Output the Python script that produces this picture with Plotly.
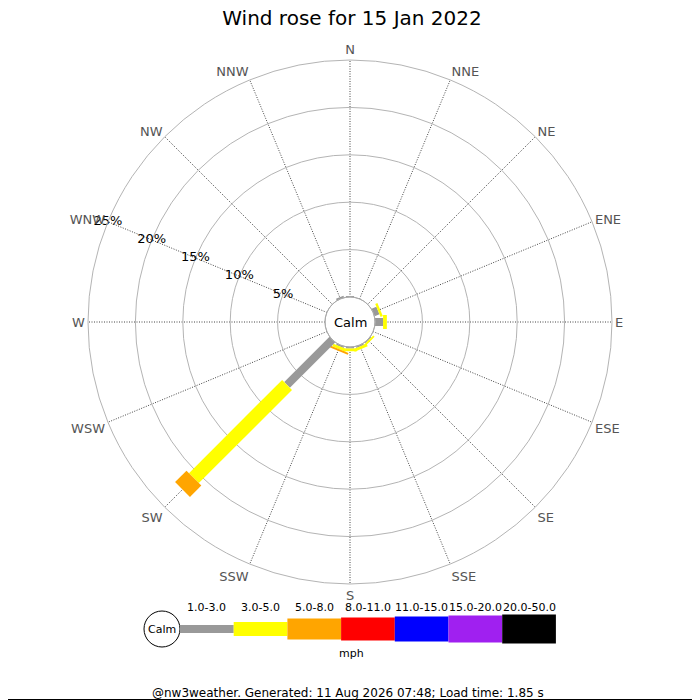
import plotly.graph_objects as go

# ---------------- data ----------------
directions = ["N", "NNE", "NE", "ENE", "E", "ESE", "SE", "SSE",
              "S", "SSW", "SW", "WSW", "W", "WNW", "NW", "NNW"]
band_labels = ["1.0-3.0", "3.0-5.0", "5.0-8.0", "8.0-11.0",
               "11.0-15.0", "15.0-20.0", "20.0-50.0"]
# percentage of time per direction, for each speed band (mph)
band_1_3 = [0.1, 0, 0, 0.55, 0.85, 0, 0.1, 0.15, 0.15, 0.15, 6.75, 0, 0, 0, 0, 0.2]
band_3_5 = [0, 0, 0, 0.25, 0.4, 0, 0.2, 0.3, 0.3, 0.3, 13.9, 0, 0, 0, 0, 0]
band_5_8 = [0, 0, 0, 0, 0, 0, 0, 0, 0, 0.2, 1.7, 0, 0, 0, 0, 0]
band_8_11 = [0] * 16
band_11_15 = [0] * 16
band_15_20 = [0] * 16
band_20_50 = [0] * 16
radial_ticks = [5, 10, 15, 20, 25]
radial_tick_labels = ["5%", "10%", "15%", "20%", "25%"]

# ---------------- style ----------------
bands = [band_1_3, band_3_5, band_5_8, band_8_11, band_11_15, band_15_20, band_20_50]
band_colors = ["#999999", "#ffff00", "#ffa500", "#ff0000", "#0000ff", "#a020f0", "#000000"]
band_widths = [8, 14, 21, 23, 25, 27, 29]
FONT = "DejaVu Sans"
W = H = 700
OFF = 8  # page body margin
cx, cy, R = 350, 322, 262
hole_px = 25

def px(x):
    return (x - OFF) / W

def py(y):
    return 1 - (y - OFF) / H

fig = go.Figure()
angles = [i * 22.5 for i in range(len(directions))]

# bars: drawn direction by direction, band by band, stacked outward
for d, ang in enumerate(angles):
    base = 0.0
    for b, vals in enumerate(bands):
        v = vals[d]
        if v <= 0:
            continue
        fig.add_trace(go.Scatterpolar(
            r=[base, base + v], theta=[ang, ang], mode="lines",
            line=dict(color=band_colors[b], width=band_widths[b]),
            hoverinfo="skip", showlegend=False))
        base += v

# radial labels along WNW spoke
wnw = angles[directions.index("WNW")]
fig.add_trace(go.Scatterpolar(
    r=radial_ticks, theta=[wnw] * len(radial_ticks), mode="text",
    text=radial_tick_labels, textposition="middle center",
    textfont=dict(family=FONT, size=13, color="black"),
    hoverinfo="skip", showlegend=False))

fig.update_layout(
    width=W, height=H,
    margin=dict(l=0, r=0, t=0, b=0),
    paper_bgcolor="white", plot_bgcolor="white",
    showlegend=False,
    polar=dict(
        domain=dict(x=[px(cx - R), px(cx + R)], y=[py(cy + R), py(cy - R)]),
        hole=hole_px / R,
        bgcolor="white",
        radialaxis=dict(range=[0, 25], tickvals=radial_ticks, showticklabels=False,
                        ticks="", showline=False, gridcolor="#b4b4b4", gridwidth=1),
        angularaxis=dict(direction="clockwise", rotation=90, tickmode="array",
                         tickvals=angles, ticktext=directions, ticks="",
                         showline=True, linecolor="#b4b4b4", linewidth=1,
                         gridcolor="#444444", griddash="1px,1.5px", gridwidth=1,
                         tickfont=dict(family=FONT, size=13, color="#555555")),
    ),
    title=dict(text="Wind rose for 15 Jan 2022", x=px(352), xanchor="center",
               y=py(18), yanchor="middle",
               font=dict(family=FONT, size=20, color="black")),
)

shapes = []
annotations = []

def ann(text, x, y, size, color="black"):
    annotations.append(dict(text=text, x=px(x), y=py(y), xref="paper", yref="paper",
                            xanchor="center", yanchor="middle", showarrow=False,
                            font=dict(family=FONT, size=size, color=color)))

# calm circle in the centre
shapes.append(dict(type="circle", xref="paper", yref="paper",
                   x0=px(cx - hole_px), x1=px(cx + hole_px),
                   y0=py(cy + hole_px), y1=py(cy - hole_px),
                   line=dict(color="#aaaaaa", width=1), fillcolor="rgba(0,0,0,0)"))
ann("Calm", cx, cy, 13)

# legend key
leg_cy = 629
leg_x0 = 180
leg_w = 53.7
shapes.append(dict(type="circle", xref="paper", yref="paper",
                   x0=px(162 - 18), x1=px(162 + 18), y0=py(leg_cy + 18), y1=py(leg_cy - 18),
                   line=dict(color="black", width=1), fillcolor="white"))
ann("Calm", 162, leg_cy, 11)
for i, lab in enumerate(band_labels):
    x0 = leg_x0 + i * leg_w
    hw = band_widths[i] / 2
    shapes.append(dict(type="rect", xref="paper", yref="paper",
                       x0=px(x0), x1=px(x0 + leg_w), y0=py(leg_cy + hw), y1=py(leg_cy - hw),
                       line=dict(width=0), fillcolor=band_colors[i]))
    ann(lab, x0 + leg_w / 2, 607, 11)
ann("mph", 351, 653, 11)
ann("@nw3weather. Generated: 11 Aug 2026 07:48; Load time: 1.85 s", 348, 693, 12)
shapes.append(dict(type="line", xref="paper", yref="paper", x0=0, x1=1, y0=py(699.5), y1=py(699.5),
                   line=dict(color="black", width=1)))

fig.update_layout(shapes=shapes, annotations=annotations)
fig.write_html("out.html")
